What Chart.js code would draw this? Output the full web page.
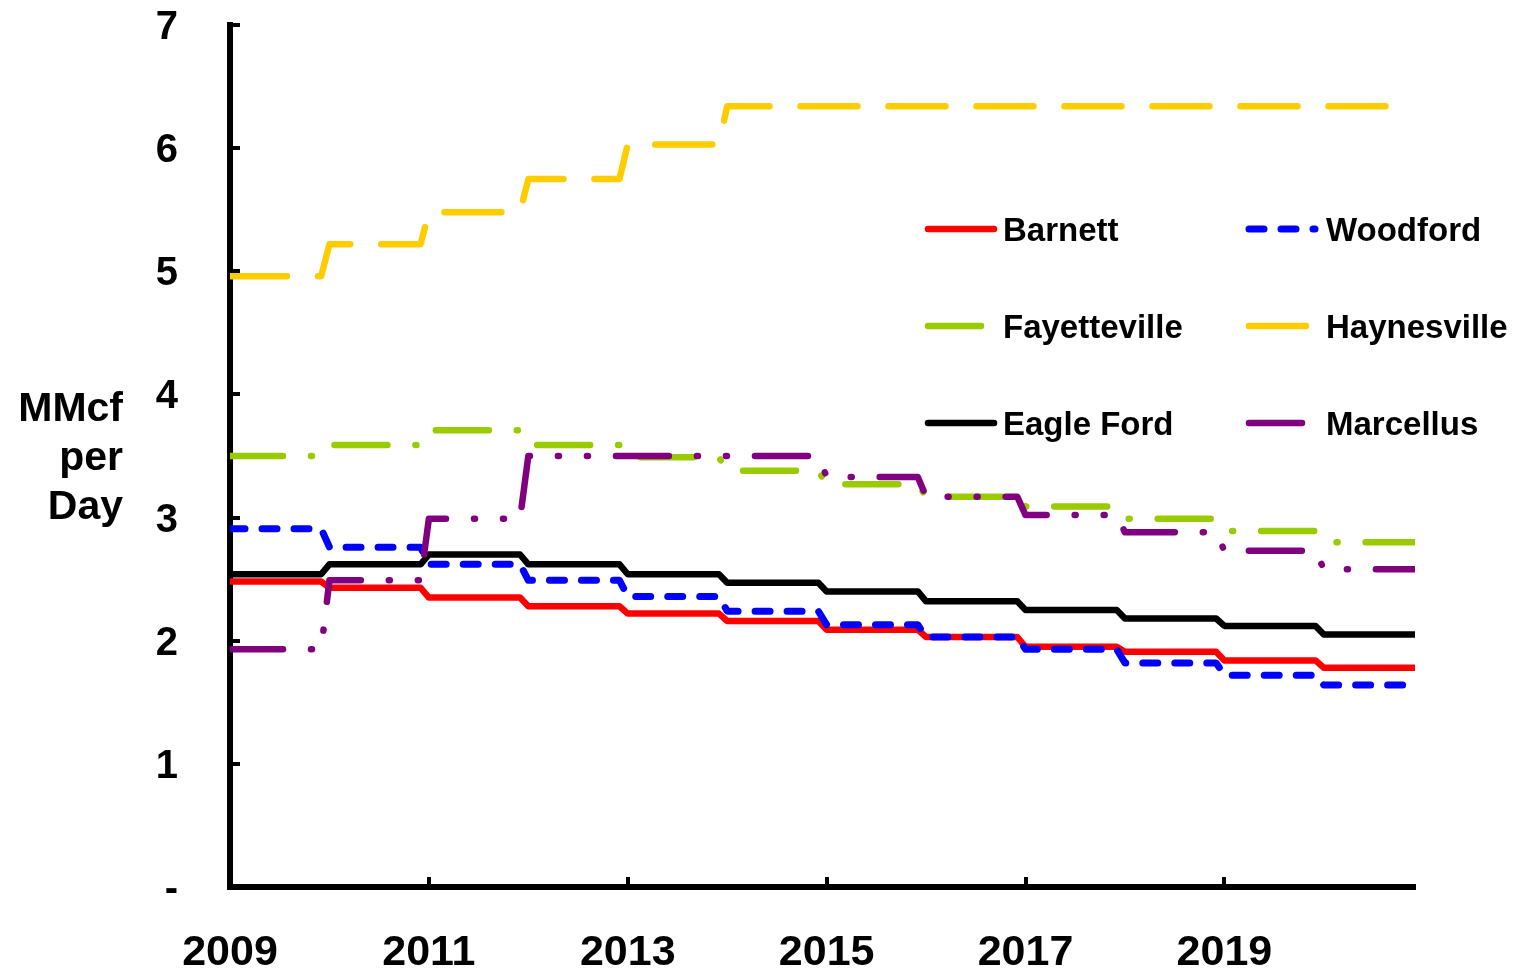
<!DOCTYPE html>
<html>
<head>
<meta charset="utf-8">
<title>MMcf per Day</title>
<script src="https://cdn.jsdelivr.net/npm/chart.js@4.4.1/dist/chart.umd.min.js"></script>
<style>
  html, body { margin: 0; padding: 0; background: #fff; }
  #wrap { position: relative; width: 1514px; height: 971px; }
</style>
</head>
<body>
<div id="wrap"><canvas id="chart"></canvas></div>
<script>
// yearly values, each held flat Jan..Dec and stepping at the new year
const years = [2009, 2010, 2011, 2012, 2013, 2014, 2015, 2016, 2017, 2018, 2019, 2020];
const xTickYears = [2009, 2011, 2013, 2015, 2017, 2019];
const yTitleLines = ['MMcf', 'per', 'Day'];

const seriesNames = ['Barnett', 'Woodford', 'Fayetteville', 'Haynesville', 'Eagle Ford', 'Marcellus'];
const barnett      = [2.48, 2.43, 2.35, 2.28, 2.22, 2.16, 2.09, 2.03, 1.95, 1.91, 1.84, 1.78];
const woodford     = [2.91, 2.76, 2.62, 2.49, 2.36, 2.24, 2.13, 2.03, 1.93, 1.82, 1.72, 1.64];
const fayetteville = [3.50, 3.59, 3.71, 3.59, 3.49, 3.38, 3.27, 3.17, 3.09, 2.99, 2.89, 2.80];
const haynesville  = [4.96, 5.22, 5.48, 5.75, 6.03, 6.34, 6.34, 6.34, 6.34, 6.34, 6.34, 6.34];
const eagleFord    = [2.54, 2.62, 2.70, 2.62, 2.54, 2.47, 2.40, 2.32, 2.25, 2.18, 2.12, 2.05];
const marcellus    = [1.93, 2.49, 2.99, 3.50, 3.50, 3.50, 3.33, 3.17, 3.02, 2.88, 2.73, 2.58];

const seriesValues = [barnett, woodford, fayetteville, haynesville, eagleFord, marcellus];
const seriesColors = ['#ff0000', '#0000ff', '#99cc00', '#ffcc00', '#000000', '#800080'];
const seriesDashes = [[], [15, 17], [53, 28, 1, 28], [57, 31], [], [53, 28, 1, 28, 1, 28]];
const seriesWidths = [6.5, 7, 6.5, 6.5, 6.5, 6.5];

function stepPoints(values) {
  return values.flatMap((v, i) => [
    { x: years[i], y: v },
    { x: years[i] + 11 / 12, y: v }
  ]);
}

const datasets = seriesNames.map((name, i) => ({
  label: name,
  data: stepPoints(seriesValues[i]),
  borderColor: seriesColors[i],
  backgroundColor: seriesColors[i],
  borderWidth: seriesWidths[i],
  borderDash: seriesDashes[i],
  borderCapStyle: 'round',
  borderJoinStyle: 'round',
  pointRadius: 0,
  tension: 0,
  fill: false,
  order: seriesNames.length - i
}));

const FONT = '"Liberation Sans", Arial, sans-serif';

// inward tick marks on both axes
const tickMarks = {
  id: 'tickMarks',
  afterDatasetsDraw(chart) {
    const { ctx, chartArea, scales } = chart;
    ctx.save();
    ctx.strokeStyle = '#000';
    ctx.lineWidth = 4;
    ctx.setLineDash([]);
    ctx.beginPath();
    scales.y.ticks.forEach((t) => {
      const py = Math.round(scales.y.getPixelForValue(t.value));
      ctx.moveTo(chartArea.left, py);
      ctx.lineTo(chartArea.left + 10, py);
    });
    scales.x.ticks.forEach((t) => {
      const px = Math.round(scales.x.getPixelForValue(t.value));
      ctx.moveTo(px, chartArea.bottom);
      ctx.lineTo(px, chartArea.bottom - 10);
    });
    ctx.stroke();
    ctx.restore();
  }
};

// horizontal three-line axis title left of the y axis
const yTitle = {
  id: 'yTitle',
  afterDraw(chart) {
    const { ctx } = chart;
    ctx.save();
    ctx.fillStyle = '#000';
    ctx.font = 'bold 41px ' + FONT;
    ctx.textAlign = 'right';
    ctx.textBaseline = 'alphabetic';
    yTitleLines.forEach((line, i) => {
      ctx.fillText(line, 123, 421 + i * 49);
    });
    ctx.restore();
  }
};

// two-column legend inside the plot
const gridLegend = {
  id: 'gridLegend',
  afterDraw(chart) {
    const { ctx } = chart;
    const sampleX = [928, 1249];
    const textX = [1003, 1326];
    ctx.save();
    ctx.font = 'bold 33px ' + FONT;
    ctx.textAlign = 'left';
    ctx.textBaseline = 'alphabetic';
    chart.data.datasets.forEach((ds, i) => {
      const col = i % 2;
      const row = Math.floor(i / 2);
      const y = 229 + row * 97;
      ctx.strokeStyle = ds.borderColor;
      ctx.lineWidth = ds.borderWidth;
      ctx.lineCap = 'round';
      ctx.setLineDash(ds.borderDash || []);
      ctx.beginPath();
      ctx.moveTo(sampleX[col], y);
      ctx.lineTo(sampleX[col] + 66, y);
      ctx.stroke();
      ctx.setLineDash([]);
      ctx.fillStyle = '#000';
      ctx.fillText(ds.label, textX[col], y + 12);
    });
    ctx.restore();
  }
};

function noScalePadding(scale) {
  scale.paddingTop = 0;
  scale.paddingBottom = 0;
  scale.paddingLeft = 0;
  scale.paddingRight = 0;
}

new Chart(document.getElementById('chart'), {
  type: 'line',
  data: { datasets: datasets },
  options: {
    responsive: true,
    maintainAspectRatio: false,
    animation: false,
    devicePixelRatio: 1,
    layout: { padding: { left: 0, right: 99, top: 25, bottom: 0 } },
    plugins: {
      legend: { display: false },
      tooltip: { enabled: false }
    },
    scales: {
      x: {
        type: 'linear',
        min: years[0],
        max: years[years.length - 1] + 11 / 12,
        afterBuildTicks: (scale) => {
          scale.ticks = xTickYears.map((v) => ({ value: v }));
        },
        afterFit: (scale) => { scale.height = 84; noScalePadding(scale); },
        grid: { drawOnChartArea: false, drawTicks: false },
        border: { display: true, color: '#000', width: 6 },
        ticks: {
          autoSkip: false,
          maxRotation: 0,
          padding: 40,
          color: '#000',
          font: { family: FONT, size: 43, weight: 'bold' },
          callback: (v) => String(v)
        }
      },
      y: {
        min: 0,
        max: 7,
        afterFit: (scale) => { scale.width = 230; noScalePadding(scale); },
        grid: { drawOnChartArea: false, drawTicks: false },
        border: { display: true, color: '#000', width: 6 },
        ticks: {
          stepSize: 1,
          padding: 52,
          labelOffset: 3,
          color: '#000',
          font: { family: FONT, size: 40, weight: 'bold' },
          callback: (v) => (v === 0 ? '-' : String(v))
        }
      }
    }
  },
  plugins: [tickMarks, yTitle, gridLegend]
});
</script>
</body>
</html>
